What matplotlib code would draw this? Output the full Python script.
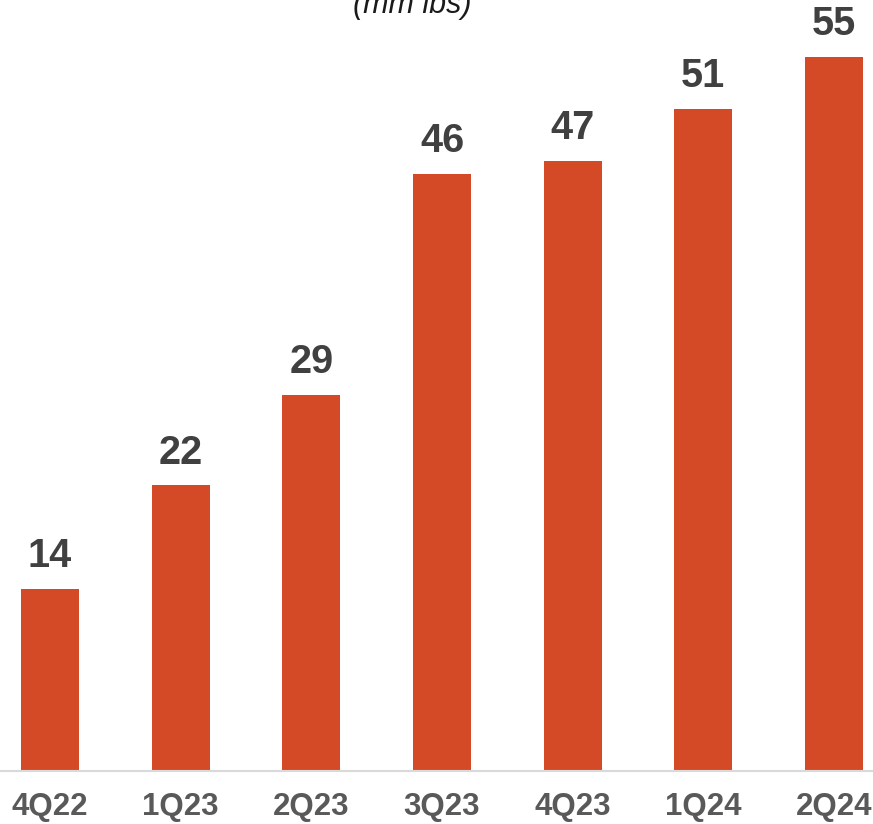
import matplotlib
matplotlib.use("Agg")
import matplotlib.pyplot as plt

plt.rcParams['font.family'] = ['Liberation Sans', 'DejaVu Sans']

quarters = ["4Q22", "1Q23", "2Q23", "3Q23", "4Q23", "1Q24", "2Q24"]
volumes = [14, 22, 29, 46, 47, 51, 55]

bar_color = "#D44A27"
label_color = "#404040"
tick_color = "#595959"

fig = plt.figure(figsize=(8.73, 8.24), dpi=100)
ax = fig.add_axes([0, 53 / 824, 1, 771 / 824])

x = list(range(len(quarters)))
bars = ax.bar(x, volumes, width=0.444, color=bar_color, zorder=2)

for xi, v in zip(x, volumes):
    ax.annotate(f"{v}", (xi, v), xytext=(0, 10), textcoords="offset points",
                ha="center", va="bottom", fontsize=28.5, fontweight="bold",
                color=label_color)

ax.set_xlim(-50 / 130.67, (873 - 50) / 130.67)
ax.set_ylim(0, 771 / 12.98)

for side in ("top", "right", "left"):
    ax.spines[side].set_visible(False)
ax.spines["bottom"].set_color("#D9D9D9")
ax.spines["bottom"].set_linewidth(1.5)
ax.set_yticks([])
ax.set_xticks(x)
ax.set_xticklabels(quarters, fontsize=22.5, fontweight="bold", color=tick_color)
ax.tick_params(axis="x", length=0, pad=15)

fig.text(412 / 873, 1 - 13 / 824, "(mm lbs)", ha="center", va="baseline",
         fontsize=22, fontstyle="italic", color="#1a1a1a")

fig.savefig("out.png", dpi=100)
